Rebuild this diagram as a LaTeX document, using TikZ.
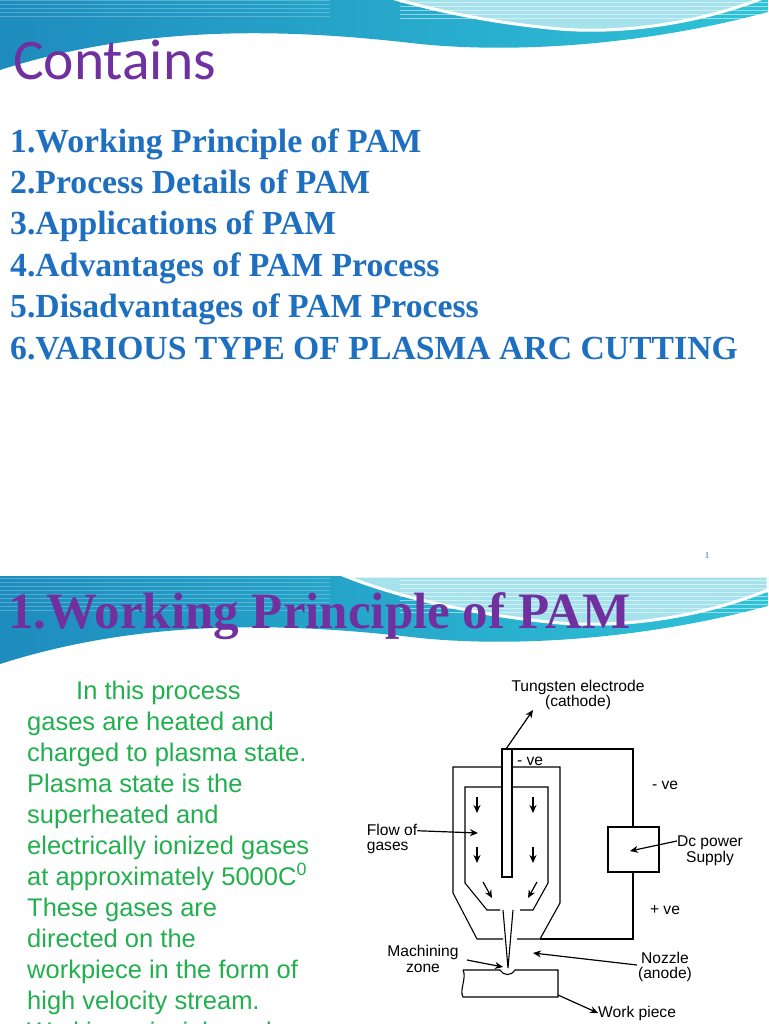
\documentclass[tikz,border=0pt]{standalone}
\usepackage{fontspec}
\setmainfont{Liberation Serif}
\newfontfamily\calib{Carlito}
\newfontfamily\arial{Liberation Sans}
\usetikzlibrary{arrows.meta}
\definecolor{ttlpurple}{HTML}{7030A0}
\definecolor{lstblue}{HTML}{1F6FC0}
\definecolor{txtgreen}{HTML}{22B04F}
\definecolor{bandA}{HTML}{1E8CBE}
\definecolor{bandB}{HTML}{2FC3D8}
\definecolor{bandC}{HTML}{A6E2EC}
\tikzset{
  lst/.style={anchor=base west,inner sep=0pt,text=lstblue,font=\fontsize{33.7}{33.7}\selectfont\bfseries},
  body/.style={anchor=base west,inner sep=0pt,text=txtgreen,font=\arial\fontsize{25.5}{25.5}\selectfont},
  lbl/.style={inner sep=0pt,font=\arial\fontsize{15.6}{15.6}\selectfont,align=center},
  ln/.style={line width=1.1pt,black},
  arr/.style={line width=1.2pt,-{Stealth[length=8pt,width=7pt]}},
}
\newcommand{\mybanner}[1]{%
  \shade[left color=bandA,right color=bandB] (0,#1) -- (768,#1) -- (768,#1+30)
     .. controls (650,#1+62) and (520,#1+72) .. (420,#1+62)
     .. controls (300,#1+48) and (150,#1+40) .. (0,#1+88) -- cycle;
  \foreach \k in {2,6,...,34}{\draw[white,opacity=0.25,line width=0.5pt] (0,#1+\k) -- (330,#1+\k);}
  \fill[bandC,draw=white,line width=3pt] (345,#1) -- (768,#1) -- (768,#1+14)
     .. controls (700,#1+42) and (620,#1+52) .. (560,#1+47)
     .. controls (480,#1+40) and (400,#1+22) .. (345,#1) -- cycle;
  \foreach \k in {4,8,...,36}{\draw[white,opacity=0.5,line width=0.5pt] (400,#1+\k) -- (768,#1+\k);}
  \draw[white,line width=2pt] (0,#1+90) .. controls (150,#1+42) and (300,#1+50) .. (420,#1+66)
     .. controls (520,#1+76) and (650,#1+66) .. (768,#1+34);
}
\begin{document}
\begin{tikzpicture}[x=1pt,y=-1pt]
\useasboundingbox (0,0) rectangle (768,1024);
\clip (0,0) rectangle (768,1024);
\fill[white] (0,0) rectangle (768,1024);
% slide 1
\mybanner{-18}
\node[anchor=base west,inner sep=0pt,text=ttlpurple,font=\calib\fontsize{57.5}{57.5}\selectfont] (t1) at (13,80) {Contains};
\node[lst] (l1) at (10,153) {1.Working Principle of PAM};
\node[lst] (l2) at (10,194) {2.Process Details of PAM};
\node[lst] (l3) at (10,235) {3.Applications of PAM};
\node[lst] (l4) at (10,276) {4.Advantages of PAM Process};
\node[lst] (l5) at (10,317) {5.Disadvantages of PAM Process};
\node[lst] (l6) at (10,359) {6.VARIOUS TYPE OF PLASMA ARC CUTTING};
\node[inner sep=0pt,font=\fontsize{9}{9}\selectfont,text=lstblue] (pg) at (707,556) {1};
% slide 2
\mybanner{576}
\node[anchor=base west,inner sep=0pt,text=ttlpurple,font=\fontsize{51}{51}\selectfont\bfseries] (t2) at (8,628) {1.Working Principle of PAM};
\node[body] (b1) at (76,699) {In this process};
\node[body] (b2) at (27,730) {gases are heated and};
\node[body] (b3) at (27,761) {charged to plasma state.};
\node[body] (b4) at (27,792) {Plasma state is the};
\node[body] (b5) at (27,823) {superheated and};
\node[body] (b6) at (27,854) {electrically ionized gases};
\node[body] (b7) at (27,885) {at approximately 5000C\textsuperscript{0}};
\node[body] (b8) at (27,916) {These gases are};
\node[body] (b9) at (27,947) {directed on the};
\node[body] (b10) at (27,978) {workpiece in the form of};
\node[body] (b11) at (27,1009) {high velocity stream.};
\node[body] (b12) at (27,1040) {Working principle and};
% diagram
\draw[ln] (503,939) -- (477,939) -- (453,893) -- (453,767) -- (502,767);
\draw[ln] (512,767) -- (560,767) -- (560,903) -- (540,939) -- (517,939);
\draw[ln] (500,910) -- (487,910) -- (465,883) -- (465,787) -- (502,787);
\draw[ln] (512,787) -- (548,787) -- (548,883) -- (533,910) -- (520,910);
\draw[ln] (502,877) -- (502,749) -- (512,749) -- (512,877) -- cycle;
\draw[ln] (512,749) -- (633,749) -- (633,827);
\draw[ln] (633,872) -- (633,939) -- (540,939);
\node[draw,line width=1.1pt,minimum width=51pt,minimum height=45pt,inner sep=0pt] (dc) at (633.5,849.5) {};
\draw[ln] (503,910) -- (508,968) -- (513,910);
\draw[ln] (463,970) -- (500,970) .. controls (503,976) and (512,976) .. (515,970) -- (558,970) -- (558,997) -- (463,997)
  .. controls (459,990) and (467,978) .. (463,970);
\foreach \x in {477,533}{
  \draw[arr] (\x,797) -- (\x,813);
  \draw[arr] (\x,847) -- (\x,863);}
\draw[arr] (483,882) -- (492,898);
\draw[arr] (537,882) -- (528,898);
\node[lbl,align=left] (flow) at (392,839) {Flow of\\gases};
\draw[arr] (flow.north east) ++(0,7) coordinate (fs) -- (478,833);
\node[lbl] (tung) at (578,695) {Tungsten electrode\\(cathode)};
\coordinate (etop) at (506,749);
\draw[arr] (etop) -- (533,710);
\node[lbl] (neg1) at (530,761) {- ve};
\node[lbl] (neg2) at (665,785) {- ve};
\node[lbl] (pos) at (665,910) {+ ve};
\node[lbl] (dct) at (710,851) {Dc power\\Supply};
\draw[arr] (dct.north west) ++(0,5) coordinate (dcs) -- (630,851);
\node[lbl] (mz) at (423,959) {Machining\\zone};
\coordinate (mzt) at (503,967);
\draw[arr] (467,960) -- (mzt);
\node[lbl] (noz) at (665,967) {Nozzle\\(anode)};
\coordinate (nzt) at (533,953);
\draw[arr] (637,965) -- (nzt);
\node[lbl,anchor=west] (wp) at (598,1013) {Work piece};
\draw[arr] (558,995) -- (wp.west);
\end{tikzpicture}
\end{document}
